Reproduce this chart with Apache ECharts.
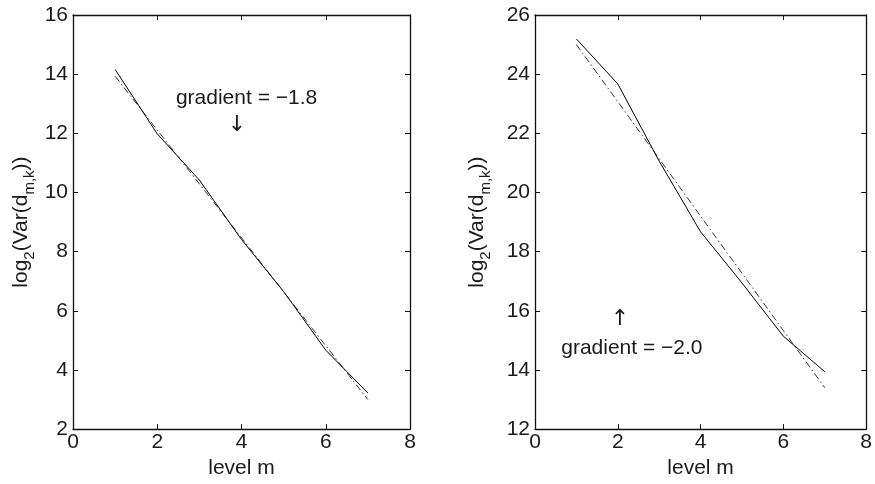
<!DOCTYPE html>
<html><head><meta charset="utf-8">
<script src="https://cdn.jsdelivr.net/npm/echarts@6/dist/echarts.min.js"></script>
<style>html,body{margin:0;padding:0;background:#fff}#c{width:875px;height:484px}</style>
</head><body><div id="c"></div>
<script>
// ---- data ----
const levels = [1, 2, 3, 4, 5, 6, 7];
const leftMeasured = [14.16, 11.98, 10.42, 8.41, 6.65, 4.67, 3.22];
const leftFit = [13.93, 12.11, 10.29, 8.47, 6.64, 4.82, 3.0];
const rightMeasured = [25.19, 23.67, 21.06, 18.67, 16.94, 15.14, 13.94];
const rightFit = [25.0, 23.07, 21.14, 19.2, 17.27, 15.33, 13.4];
const xTicks = [0, 2, 4, 6, 8];
const leftYRange = [2, 16];
const rightYRange = [12, 26];
const leftNote = 'gradient = \u22121.8';
const rightNote = 'gradient = \u22122.0';

const FONT = '"Liberation Sans", Arial, Helvetica, sans-serif';
const FS = 21;
const TXT = '#1a1a1a';
const pair = a => levels.map((x, i) => [x, a[i]]);

function xAxisPair(gi) {
  const base = {
    type: 'value', gridIndex: gi, min: xTicks[0], max: xTicks[xTicks.length - 1], interval: 2,
    splitLine: { show: false },
    axisLine: { show: true, onZero: false, lineStyle: { color: '#111', width: 1.3 } },
    axisTick: { show: true, inside: true, length: 5, lineStyle: { color: '#111', width: 1 } }
  };
  return [
    Object.assign({}, base, {
      position: 'bottom',
      axisLabel: { show: true, fontSize: FS, fontFamily: FONT, color: TXT, margin: 3 },
      name: 'level m', nameLocation: 'middle', nameGap: 28,
      nameTextStyle: { fontSize: FS, fontFamily: FONT, color: TXT }
    }),
    Object.assign({}, base, { position: 'top', axisLabel: { show: false } })
  ];
}
const yName = 'log{sub|2}(Var(d{sub|m,k}))';
const yRich = {
  sub: { fontSize: 15, fontFamily: FONT, color: TXT, verticalAlign: 'bottom', lineHeight: 31 }
};
function yAxisPair(gi, rng, gap) {
  const base = {
    type: 'value', gridIndex: gi, min: rng[0], max: rng[1], interval: 2,
    splitLine: { show: false },
    axisLine: { show: true, onZero: false, lineStyle: { color: '#111', width: 1.3 } },
    axisTick: { show: true, inside: true, length: 5, lineStyle: { color: '#111', width: 1 } }
  };
  return [
    Object.assign({}, base, {
      position: 'left',
      axisLabel: { show: true, fontSize: FS, fontFamily: FONT, color: TXT, margin: 5 },
      name: yName, nameLocation: 'middle', nameGap: gap, nameRotate: 90,
      nameTextStyle: { fontSize: FS, fontFamily: FONT, color: TXT, lineHeight: 31, rich: yRich }
    }),
    Object.assign({}, base, { position: 'right', axisLabel: { show: false } })
  ];
}

function note(coord, text, size, family) {
  return {
    coord: coord, value: text, symbol: 'circle', symbolSize: 0,
    label: { show: true, position: 'inside', formatter: text, fontSize: size, fontFamily: family, color: TXT }
  };
}
const ARROWFONT = '"Noto Sans", "DejaVu Sans", sans-serif';

const chart = echarts.init(document.getElementById('c'), null, { renderer: 'canvas' });
chart.setOption({
  backgroundColor: '#fff',
  animation: false,
  grid: [
    { left: 73, top: 15, width: 337, height: 418 },
    { left: 535, top: 15, width: 335, height: 418 }
  ],
  xAxis: [...xAxisPair(0), ...xAxisPair(1)],
  yAxis: [...yAxisPair(0, leftYRange, 36), ...yAxisPair(1, rightYRange, 42)],
  series: [
    { type: 'line', xAxisIndex: 0, yAxisIndex: 0, data: pair(leftMeasured), symbol: 'none',
      lineStyle: { color: '#000', width: 1 },
      markPoint: { silent: true, data: [note([4.12, 13.19], leftNote, FS, FONT), note([3.89, 12.3], '\u2193', 22, ARROWFONT)] } },
    { type: 'line', xAxisIndex: 0, yAxisIndex: 0, data: pair(leftFit), symbol: 'none',
      lineStyle: { color: '#000', width: 0.8, type: [7, 3, 1.5, 3] } },
    { type: 'line', xAxisIndex: 2, yAxisIndex: 2, data: pair(rightMeasured), symbol: 'none',
      lineStyle: { color: '#000', width: 1 },
      markPoint: { silent: true, data: [note([2.34, 14.75], rightNote, FS, FONT), note([2.05, 15.72], '\u2191', 22, ARROWFONT)] } },
    { type: 'line', xAxisIndex: 2, yAxisIndex: 2, data: pair(rightFit), symbol: 'none',
      lineStyle: { color: '#000', width: 0.8, type: [7, 3, 1.5, 3] } }
  ]
});
</script></body></html>
